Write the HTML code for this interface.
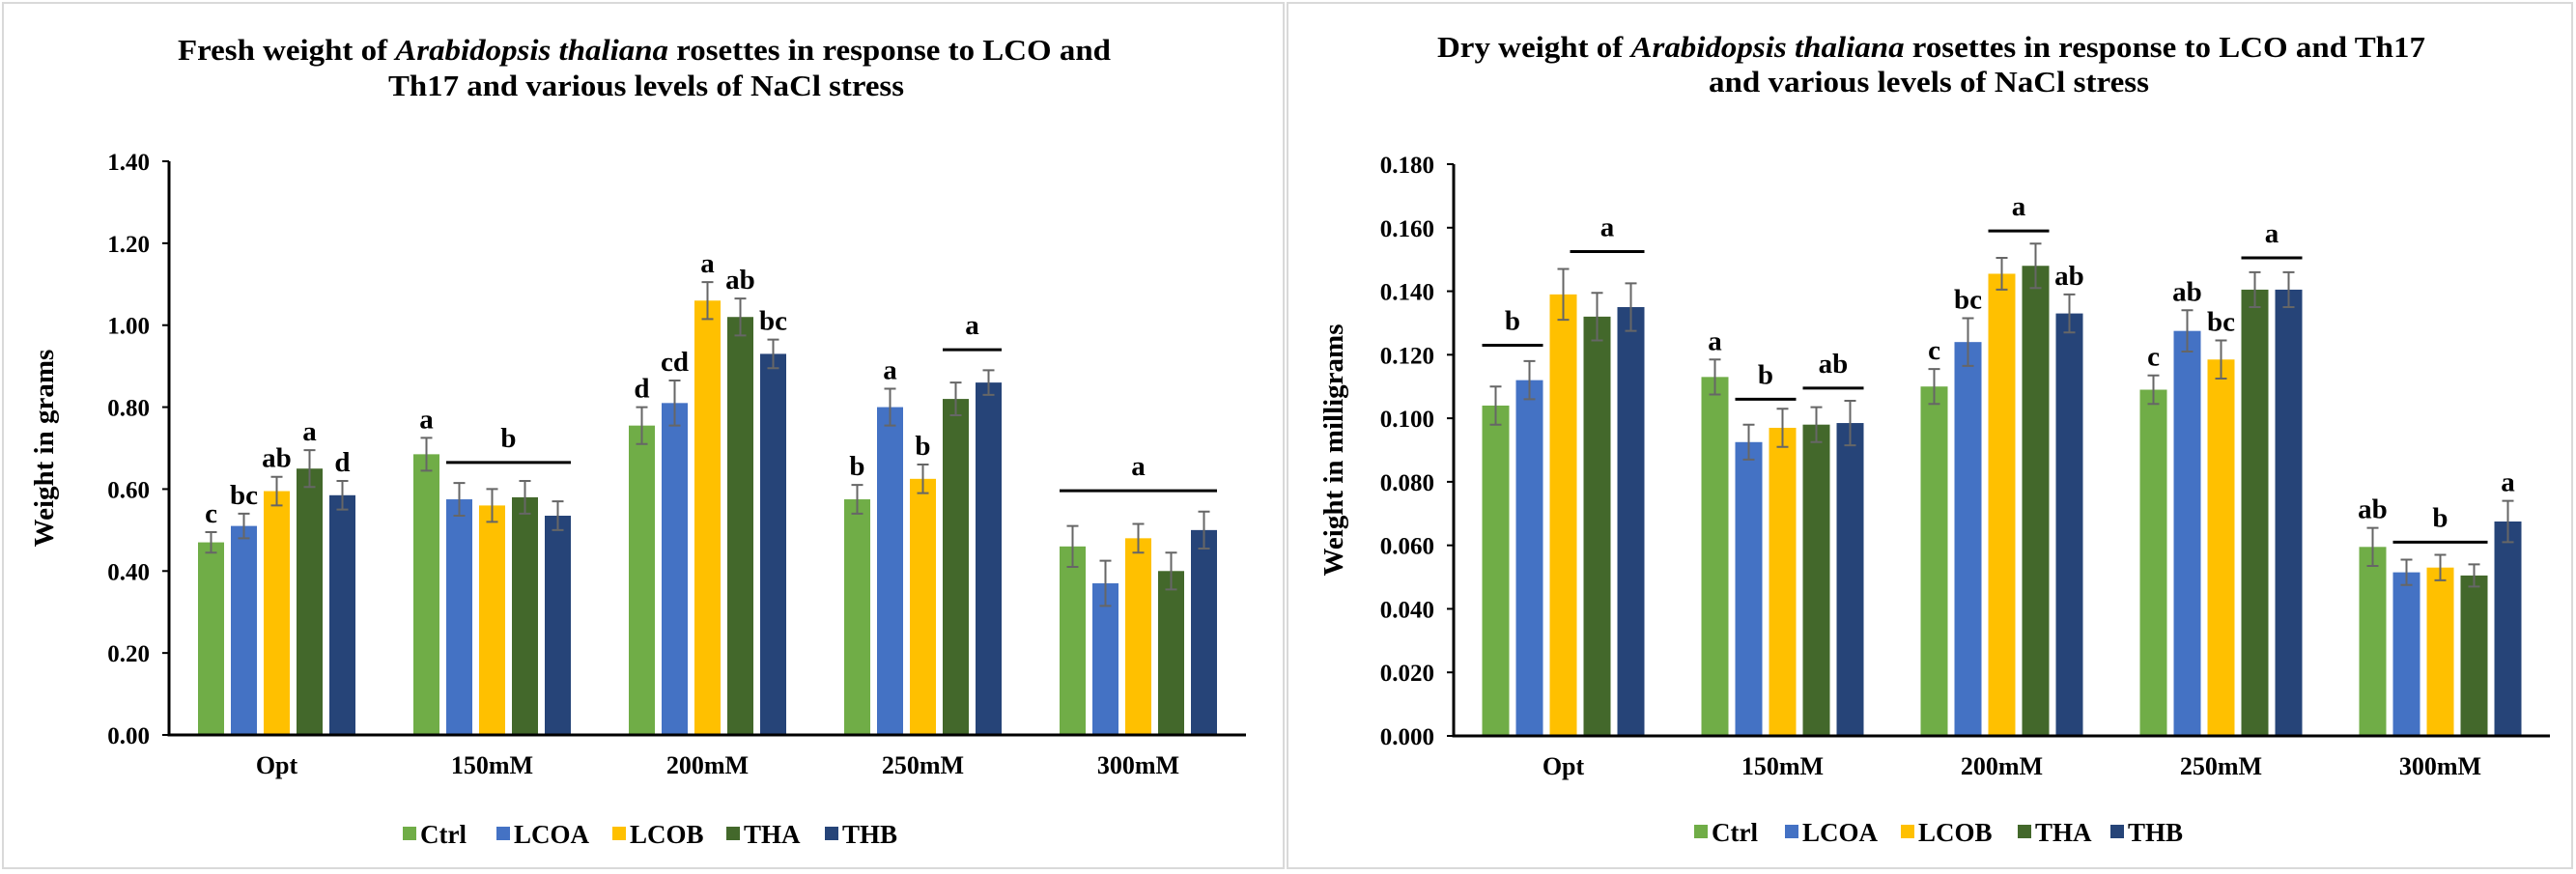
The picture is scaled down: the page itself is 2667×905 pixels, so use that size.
<!DOCTYPE html>
<html><head><meta charset="utf-8"><style>
html,body{margin:0;padding:0;background:#fff;}
svg{display:block;font-family:"Liberation Serif",serif;font-weight:bold;}
</style></head><body>
<svg id="chart" width="2667" height="905" viewBox="0 0 2667 905" xmlns="http://www.w3.org/2000/svg">
<rect x="3" y="3" width="1326" height="896" fill="#fff" stroke="#d9d9d9" stroke-width="2"/>
<rect x="1333" y="3" width="1330" height="896" fill="#fff" stroke="#d9d9d9" stroke-width="2"/>
<text x="184" y="62" font-size="31" textLength="966" lengthAdjust="spacingAndGlyphs">Fresh weight of <tspan font-style="italic">Arabidopsis thaliana</tspan> rosettes in response to LCO and</text>
<text x="402" y="99" font-size="31" textLength="534" lengthAdjust="spacingAndGlyphs">Th17 and various levels of NaCl stress</text>
<text x="1488" y="59" font-size="31" textLength="1023" lengthAdjust="spacingAndGlyphs">Dry weight of <tspan font-style="italic">Arabidopsis thaliana</tspan> rosettes in response to LCO and Th17</text>
<text x="1769" y="95" font-size="31" textLength="456" lengthAdjust="spacingAndGlyphs">and various levels of NaCl stress</text>
</svg>
<script>
const categories = ["Opt","150mM","200mM","250mM","300mM"];
const seriesNames = ["Ctrl","LCOA","LCOB","THA","THB"];
const colors = ["#70AD47","#4472C4","#FFC000","#43682B","#264478"];

const freshCtrl = [0.47,0.685,0.755,0.575,0.46];
const freshLCOA = [0.51,0.575,0.81,0.80,0.37];
const freshLCOB = [0.595,0.56,1.06,0.625,0.48];
const freshTHA = [0.65,0.58,1.02,0.82,0.40];
const freshTHB = [0.585,0.535,0.93,0.86,0.50];
const freshErrCtrl = [0.025,0.04,0.045,0.035,0.05];
const freshErrLCOA = [0.03,0.04,0.055,0.045,0.055];
const freshErrLCOB = [0.035,0.04,0.045,0.035,0.035];
const freshErrTHA = [0.045,0.04,0.045,0.04,0.045];
const freshErrTHB = [0.035,0.035,0.035,0.03,0.045];
const freshTicks = ["0.00","0.20","0.40","0.60","0.80","1.00","1.20","1.40"];
const freshLetters = [[0,0,"c"],[0,1,"bc"],[0,2,"ab"],[0,3,"a"],[0,4,"d"],[1,0,"a"],[2,0,"d"],[2,1,"cd"],[2,2,"a"],[2,3,"ab"],[2,4,"bc"],[3,0,"b"],[3,1,"a"],[3,2,"b"]];
const freshGroups = [[1,1,4,0.665,"b"],[3,3,4,0.94,"a"],[4,0,4,0.596,"a"]];

const dryCtrl = [0.104,0.113,0.110,0.109,0.0595];
const dryLCOA = [0.112,0.0925,0.124,0.1275,0.0515];
const dryLCOB = [0.139,0.097,0.1455,0.1185,0.053];
const dryTHA = [0.132,0.098,0.148,0.1405,0.0505];
const dryTHB = [0.135,0.0985,0.133,0.1405,0.0675];
const dryErrCtrl = [0.006,0.0055,0.0055,0.0045,0.006];
const dryErrLCOA = [0.006,0.0055,0.0075,0.0065,0.004];
const dryErrLCOB = [0.008,0.006,0.005,0.006,0.004];
const dryErrTHA = [0.0075,0.0055,0.007,0.0055,0.0035];
const dryErrTHB = [0.0075,0.007,0.006,0.0055,0.0065];
const dryTicks = ["0.000","0.020","0.040","0.060","0.080","0.100","0.120","0.140","0.160","0.180"];
const dryLetters = [[1,0,"a"],[2,0,"c"],[2,1,"bc"],[2,4,"ab"],[3,0,"c"],[3,1,"ab"],[3,2,"bc"],[4,0,"ab"],[4,4,"a"]];
const dryGroups = [[0,0,1,0.123,"b"],[0,2.6,4,0.1525,"a"],[1,1,2,0.106,"b"],[1,3,4,0.1095,"ab"],[2,2,3,0.159,"a"],[3,3,4,0.1505,"a"],[4,1,3,0.061,"b"]];

const svg = document.getElementById('chart');
const NS = "http://www.w3.org/2000/svg";
function mk(tag, attrs, parent){
  const e = document.createElementNS(NS, tag);
  for (const k in attrs) e.setAttribute(k, attrs[k]);
  (parent||svg).appendChild(e);
  return e;
}

function drawChart(cfg){
  const g = mk('g', {});
  
  
  const yMax = cfg.yMax;
  const yScale = v => cfg.y0 - v / yMax * (cfg.y0 - cfg.yTop);
  const band = (cfg.xRight - cfg.xAxis) / categories.length;
  const xCenter = c => cfg.xAxis + band * (c + 0.5);
  const xBar = (c, s) => xCenter(c) + (s - 2) * cfg.step;

  cfg.ticks.forEach((t, i) => {
    const v = yMax * i / (cfg.ticks.length - 1);
    const y = yScale(v);
    const tk = mk('line', {x1: cfg.xAxis - 7, x2: cfg.xAxis, y1: y, y2: y, stroke: '#000', 'stroke-width': 2}, g);
    
    
    const lb = mk('text', {x: cfg.xAxis - 20, y: y + 9, 'text-anchor': 'end', 'font-size': 25}, g);
    lb.textContent = t;
    
    
  });
  const yt = mk('text', {x: 0, y: 0, 'text-anchor': 'middle', 'font-size': 29, transform: `translate(${cfg.yTitleX},${(cfg.y0 + cfg.yTop) / 2}) rotate(-90)`}, g);
  yt.textContent = cfg.yTitle;
  
  

  cfg.series.forEach((vals, s) => {
    vals.forEach((v, c) => {
      const x = xBar(c, s);
      const y = yScale(v);
      const r = mk('rect', {x: x - cfg.bw / 2, y: y, width: cfg.bw, height: cfg.y0 - y, fill: colors[s]}, g);
      
      
      const e = cfg.errs[s][c];
      const y1 = yScale(v + e), y2 = yScale(v - e);
      const eb = mk('path', {d: `M${x},${y1}V${y2}M${x - 6},${y1}H${x + 6}M${x - 6},${y2}H${x + 6}`, stroke: '#666', 'stroke-width': 2, fill: 'none'}, g);
      
      
    });
  });
  const ax = mk('path', {d: `M${cfg.xAxis},${cfg.yTop}V${cfg.y0}H${cfg.xRight}`, stroke: '#000', 'stroke-width': 3, fill: 'none'}, g);
  
  
  categories.forEach((cat, c) => {
    const t = mk('text', {x: xCenter(c), y: cfg.y0 + 40, 'text-anchor': 'middle', 'font-size': 26}, g);
    t.textContent = cat;
    
    
  });
  cfg.letters.forEach(([c, s, txt]) => {
    const v = cfg.series[s][c] + cfg.errs[s][c];
    const t = mk('text', {x: xBar(c, s), y: yScale(v) - 10, 'text-anchor': 'middle', 'font-size': 29}, g);
    t.textContent = txt;
    
    
  });
  cfg.groups.forEach(([c, s1, s2, v, txt]) => {
    const xa = xBar(c, s1) - cfg.bw / 2, xb = xBar(c, s2) + cfg.bw / 2;
    const y = yScale(v);
    const l = mk('line', {x1: xa, x2: xb, y1: y, y2: y, stroke: '#000', 'stroke-width': 3}, g);
    
    
    const t = mk('text', {x: (xa + xb) / 2, y: y - 16, 'text-anchor': 'middle', 'font-size': 29}, g);
    t.textContent = txt;
    
    
  });
  seriesNames.forEach((n, s) => {
    const lx = cfg.legendX[s];
    const sq = mk('rect', {x: lx, y: cfg.legendY - 8, width: 14, height: 14, fill: colors[s]}, g);
    
    
    const t = mk('text', {x: lx + 18, y: cfg.legendY + 9, 'font-size': 27}, g);
    t.textContent = n;
    
    
  });
}

drawChart({
  name: 'fresh-weight-chart', xAxis: 175, xRight: 1290, y0: 761, yTop: 167, yMax: 1.4,
  step: 34, bw: 27, ticks: freshTicks, yTitle: 'Weight in grams', yTitleX: 55,
  series: [freshCtrl, freshLCOA, freshLCOB, freshTHA, freshTHB],
  errs: [freshErrCtrl, freshErrLCOA, freshErrLCOB, freshErrTHA, freshErrTHB],
  letters: freshLetters, groups: freshGroups,
  legendX: [417, 514, 634, 752, 854], legendY: 864
});
drawChart({
  name: 'dry-weight-chart', xAxis: 1505, xRight: 2640, y0: 762, yTop: 170, yMax: 0.18,
  step: 35, bw: 28, ticks: dryTicks, yTitle: 'Weight in milligrams', yTitleX: 1390,
  series: [dryCtrl, dryLCOA, dryLCOB, dryTHA, dryTHB],
  errs: [dryErrCtrl, dryErrLCOA, dryErrLCOB, dryErrTHA, dryErrTHB],
  letters: dryLetters, groups: dryGroups,
  legendX: [1754, 1848, 1968, 2089, 2185], legendY: 862
});
</script>
</body></html>
